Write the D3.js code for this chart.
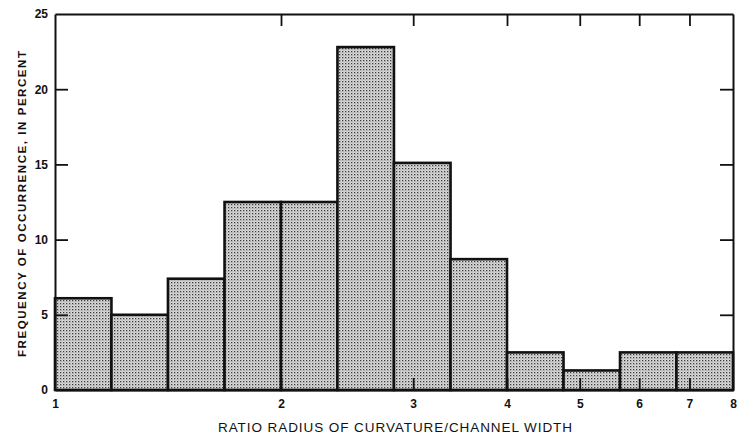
<!DOCTYPE html>
<html>
<head>
<meta charset="utf-8">
<script src="https://cdn.jsdelivr.net/npm/d3@7"></script>
<style>
  html, body { margin: 0; padding: 0; background: #fff; }
  svg { display: block; }
  text { font-family: "Liberation Sans", Arial, Helvetica, sans-serif; fill: #111; }
</style>
</head>
<body>
<svg id="chart" width="737" height="436"></svg>
<script>
// Histogram classes: quarter-doubling bins of the radius/width ratio, 1 to 8
const binEdges = [1, 1.189, 1.414, 1.682, 2, 2.378, 2.828, 3.364, 4, 4.757, 5.657, 6.727, 8];
const frequency = [6.1, 5.0, 7.4, 12.5, 12.5, 22.8, 15.1, 8.7, 2.5, 1.3, 2.5, 2.5];
const xTicks = [1, 2, 3, 4, 5, 6, 7, 8];
const yTicks = [0, 5, 10, 15, 20, 25];
const xTitle = "RATIO RADIUS OF CURVATURE/CHANNEL WIDTH";
const yTitle = "FREQUENCY OF OCCURRENCE, IN PERCENT";

const svg = d3.select("#chart");
const m = { left: 55, right: 4, top: 14, bottom: 46 };
const W = 737, H = 436;

const x = d3.scaleLog().base(2).domain([1, 8]).range([m.left, W - m.right]);
const y = d3.scaleLinear().domain([0, 25]).range([H - m.bottom, m.top]);

// Stippled fill for the bars
const defs = svg.append("defs");
const pat = defs.append("pattern")
  .attr("id", "stipple").attr("patternUnits", "userSpaceOnUse")
  .attr("width", 3).attr("height", 3);
pat.append("rect").attr("width", 3).attr("height", 3).attr("fill", "#dcdcdc");
pat.append("rect").attr("x", 0).attr("y", 0).attr("width", 1.3).attr("height", 1.3).attr("fill", "#3a3a3a");
pat.append("rect").attr("x", 1.5).attr("y", 1.5).attr("width", 1).attr("height", 1).attr("fill", "#8a8a8a");

const bins = frequency.map((v, i) => ({ x0: binEdges[i], x1: binEdges[i + 1], v }));

// Bars
svg.append("g").selectAll("rect").data(bins).join("rect")
  .attr("x", d => x(d.x0))
  .attr("y", d => y(d.v))
  .attr("width", d => x(d.x1) - x(d.x0))
  .attr("height", d => y(0) - y(d.v))
  .attr("fill", "url(#stipple)")
  .attr("stroke", "#111")
  .attr("stroke-width", 2.6);

// Frame: bottom, top, left and right axes with inward ticks
const axisStyle = g => {
  g.select(".domain").attr("stroke", "#111").attr("stroke-width", 2);
  g.selectAll(".tick line").attr("stroke", "#111").attr("stroke-width", 1.8);
};

const bottomAxis = svg.append("g").attr("transform", `translate(0,${y(0)})`)
  .call(d3.axisBottom(x).tickValues(xTicks).tickSizeInner(-12).tickSizeOuter(0)
    .tickFormat(d3.format("d")).tickPadding(9))
  .call(axisStyle);
bottomAxis.selectAll(".tick line").attr("opacity", d => (d === 1 || d === 8) ? 0 : 1);
bottomAxis.selectAll("text").attr("font-size", 12).attr("font-weight", "bold");

svg.append("g").attr("transform", `translate(0,${y(25)})`)
  .call(d3.axisTop(x).tickValues(xTicks.slice(1, -1)).tickSizeInner(-12).tickSizeOuter(0).tickFormat(""))
  .call(axisStyle);

const leftAxis = svg.append("g").attr("transform", `translate(${m.left},0)`)
  .call(d3.axisLeft(y).tickValues(yTicks).tickSizeInner(-13).tickSizeOuter(0).tickPadding(7))
  .call(axisStyle);
leftAxis.selectAll(".tick line").attr("opacity", d => (d === 0 || d === 25) ? 0 : 1);
leftAxis.selectAll("text").attr("font-size", 12).attr("font-weight", "bold");

svg.append("g").attr("transform", `translate(${W - m.right},0)`)
  .call(d3.axisRight(y).tickValues(yTicks.slice(1, -1)).tickSizeInner(-13).tickSizeOuter(0).tickFormat(""))
  .call(axisStyle);

// Axis titles
svg.append("text")
  .attr("x", (x(1) + x(8)) / 2 + 1).attr("y", 432)
  .attr("text-anchor", "middle")
  .attr("font-size", 13.5)
  .attr("textLength", 354).attr("lengthAdjust", "spacing")
  .text(xTitle);

svg.append("text")
  .attr("transform", `translate(25.5,${(y(0) + y(25)) / 2 + 2}) rotate(-90)`)
  .attr("text-anchor", "middle")
  .attr("font-size", 11.5).attr("font-weight", "bold")
  .attr("textLength", 306).attr("lengthAdjust", "spacing")
  .text(yTitle);
</script>
</body>
</html>
